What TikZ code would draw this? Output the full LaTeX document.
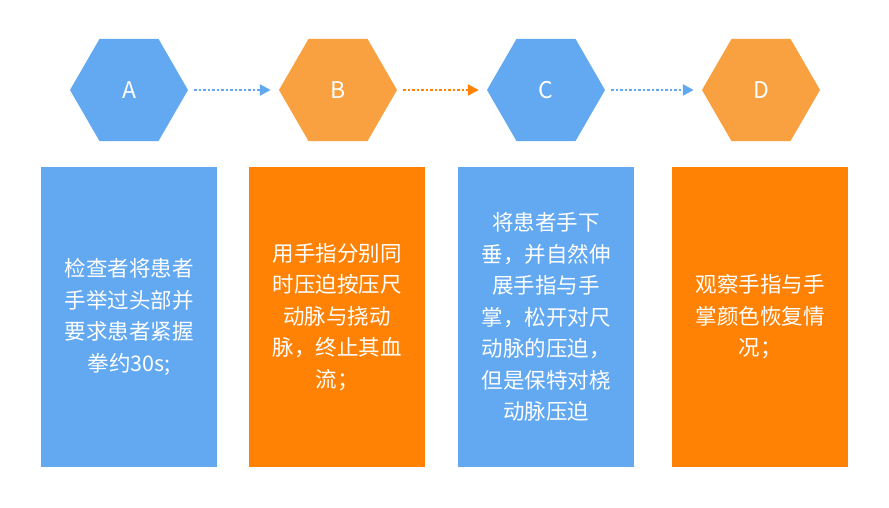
\documentclass[tikz,border=0pt]{standalone}
\usepackage{fontspec}
\setmainfont{Noto Sans CJK SC}
\usetikzlibrary{shapes.geometric,arrows.meta,positioning}
\definecolor{hexblue}{HTML}{62A9F2}
\definecolor{hexorange}{HTML}{F9A040}
\definecolor{boxorange}{HTML}{FF8204}
\tikzset{
  hexa/.style={regular polygon,regular polygon sides=6,minimum size=118pt,inner sep=0pt,text=white,font=\fontsize{23}{26}\selectfont},
  card/.style={minimum width=176pt,minimum height=300pt,inner sep=0pt,text=white,align=center,font=\fontsize{21.5}{31.5}\selectfont},
  link/.style={dotted,line width=2.5pt,-{Triangle[length=11pt,width=11pt]}}
}
\begin{document}
\begin{tikzpicture}[x=1pt,y=-1pt]
\useasboundingbox (0,0) rectangle (889,508);
\node[hexa,fill=hexblue] (A) at (129,90) {A};
\node[hexa,fill=hexorange] (B) at (338,90) {B};
\node[hexa,fill=hexblue] (C) at (546,90) {C};
\node[hexa,fill=hexorange] (D) at (761,90) {D};

\node[card,fill=hexblue] (tA) at (129,317) {检查者将患者\\手举过头部并\\要求患者紧握\\拳约30s;};
\node[card,fill=boxorange] (tB) at (337,317) {用手指分别同\\时压迫按压尺\\动脉与挠动\\脉，终止其血\\流；};
\node[card,fill=hexblue] (tC) at (546,317) {将患者手下\\垂，并自然伸\\展手指与手\\掌，松开对尺\\动脉的压迫，\\但是保特对桡\\动脉压迫};
\node[card,fill=boxorange] (tD) at (760,317) {观察手指与手\\掌颜色恢复情\\况；};

\draw[link,hexblue] ([xshift=6pt]A.east) -- ([xshift=-8pt]B.west);
\draw[link,boxorange] ([xshift=6pt]B.east) -- ([xshift=-8pt]C.west);
\draw[link,hexblue] ([xshift=6pt]C.east) -- ([xshift=-8pt]D.west);
\end{tikzpicture}
\end{document}
